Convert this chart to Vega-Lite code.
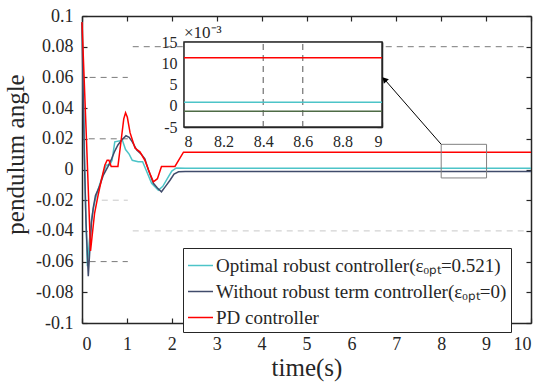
{
  "$schema": "https://vega.github.io/schema/vega-lite/v6.json",
  "width": 449,
  "height": 307,
  "autosize": {"type": "none"},
  "padding": {"left": 82, "top": 16, "right": 19, "bottom": 62},
  "background": "white",
  "config": {
    "font": "Liberation Serif",
    "view": {"stroke": null},
    "axis": {
      "domainColor": "#262626", "tickColor": "#262626", "labelColor": "#262626", "titleColor": "#262626",
      "labelFont": "Liberation Serif", "titleFont": "Liberation Serif", "titleFontWeight": "normal",
      "grid": false, "zindex": 1, "tickSize": -5, "domainWidth": 1.5, "tickWidth": 1.2, "labelFontSize": 18,
      "labelOverlap": false, "tickCount": 30
    },
    "legend": {"labelFont": "Liberation Serif"}
  },
  "datasets": {
    "curves": [
      {"s": "Optimal robust controller(εₒₚₜ=0.521)", "t": 0, "v": 0.096},
      {"s": "Optimal robust controller(εₒₚₜ=0.521)", "t": 0.02, "v": 0.07},
      {"s": "Optimal robust controller(εₒₚₜ=0.521)", "t": 0.05, "v": 0.02},
      {"s": "Optimal robust controller(εₒₚₜ=0.521)", "t": 0.08, "v": -0.025},
      {"s": "Optimal robust controller(εₒₚₜ=0.521)", "t": 0.12, "v": -0.063},
      {"s": "Optimal robust controller(εₒₚₜ=0.521)", "t": 0.16, "v": -0.048},
      {"s": "Optimal robust controller(εₒₚₜ=0.521)", "t": 0.21, "v": -0.033},
      {"s": "Optimal robust controller(εₒₚₜ=0.521)", "t": 0.25, "v": -0.026},
      {"s": "Optimal robust controller(εₒₚₜ=0.521)", "t": 0.3, "v": -0.019},
      {"s": "Optimal robust controller(εₒₚₜ=0.521)", "t": 0.39, "v": -0.01},
      {"s": "Optimal robust controller(εₒₚₜ=0.521)", "t": 0.47, "v": -0.003},
      {"s": "Optimal robust controller(εₒₚₜ=0.521)", "t": 0.54, "v": 0.003},
      {"s": "Optimal robust controller(εₒₚₜ=0.521)", "t": 0.62, "v": 0.003},
      {"s": "Optimal robust controller(εₒₚₜ=0.521)", "t": 0.67, "v": 0.006},
      {"s": "Optimal robust controller(εₒₚₜ=0.521)", "t": 0.73, "v": 0.018},
      {"s": "Optimal robust controller(εₒₚₜ=0.521)", "t": 0.9, "v": 0.019},
      {"s": "Optimal robust controller(εₒₚₜ=0.521)", "t": 0.97, "v": 0.013},
      {"s": "Optimal robust controller(εₒₚₜ=0.521)", "t": 1.05, "v": 0.01},
      {"s": "Optimal robust controller(εₒₚₜ=0.521)", "t": 1.12, "v": 0.006},
      {"s": "Optimal robust controller(εₒₚₜ=0.521)", "t": 1.25, "v": 0.005},
      {"s": "Optimal robust controller(εₒₚₜ=0.521)", "t": 1.35, "v": 0.005},
      {"s": "Optimal robust controller(εₒₚₜ=0.521)", "t": 1.45, "v": -0.002},
      {"s": "Optimal robust controller(εₒₚₜ=0.521)", "t": 1.55, "v": -0.009},
      {"s": "Optimal robust controller(εₒₚₜ=0.521)", "t": 1.7, "v": -0.0135},
      {"s": "Optimal robust controller(εₒₚₜ=0.521)", "t": 1.8, "v": -0.011},
      {"s": "Optimal robust controller(εₒₚₜ=0.521)", "t": 1.9, "v": -0.006},
      {"s": "Optimal robust controller(εₒₚₜ=0.521)", "t": 2.0, "v": -0.001},
      {"s": "Optimal robust controller(εₒₚₜ=0.521)", "t": 2.1, "v": 0.001},
      {"s": "Optimal robust controller(εₒₚₜ=0.521)", "t": 2.3, "v": 0.0008},
      {"s": "Optimal robust controller(εₒₚₜ=0.521)", "t": 8, "v": 0.0008},
      {"s": "Optimal robust controller(εₒₚₜ=0.521)", "t": 9, "v": 0.0008},
      {"s": "Optimal robust controller(εₒₚₜ=0.521)", "t": 10, "v": 0.0008},
      {"s": "Without robust term controller(εₒₚₜ=0)", "t": 0, "v": 0.096},
      {"s": "Without robust term controller(εₒₚₜ=0)", "t": 0.02, "v": 0.06},
      {"s": "Without robust term controller(εₒₚₜ=0)", "t": 0.05, "v": 0.01},
      {"s": "Without robust term controller(εₒₚₜ=0)", "t": 0.09, "v": -0.035},
      {"s": "Without robust term controller(εₒₚₜ=0)", "t": 0.14, "v": -0.0695},
      {"s": "Without robust term controller(εₒₚₜ=0)", "t": 0.18, "v": -0.05},
      {"s": "Without robust term controller(εₒₚₜ=0)", "t": 0.21, "v": -0.035},
      {"s": "Without robust term controller(εₒₚₜ=0)", "t": 0.25, "v": -0.025},
      {"s": "Without robust term controller(εₒₚₜ=0)", "t": 0.3, "v": -0.017},
      {"s": "Without robust term controller(εₒₚₜ=0)", "t": 0.39, "v": -0.011},
      {"s": "Without robust term controller(εₒₚₜ=0)", "t": 0.47, "v": -0.004},
      {"s": "Without robust term controller(εₒₚₜ=0)", "t": 0.58, "v": 0.002},
      {"s": "Without robust term controller(εₒₚₜ=0)", "t": 0.66, "v": 0.007},
      {"s": "Without robust term controller(εₒₚₜ=0)", "t": 0.73, "v": 0.012},
      {"s": "Without robust term controller(εₒₚₜ=0)", "t": 0.8, "v": 0.016},
      {"s": "Without robust term controller(εₒₚₜ=0)", "t": 0.88, "v": 0.019},
      {"s": "Without robust term controller(εₒₚₜ=0)", "t": 0.98, "v": 0.022},
      {"s": "Without robust term controller(εₒₚₜ=0)", "t": 1.05, "v": 0.021},
      {"s": "Without robust term controller(εₒₚₜ=0)", "t": 1.12, "v": 0.018},
      {"s": "Without robust term controller(εₒₚₜ=0)", "t": 1.22, "v": 0.0127},
      {"s": "Without robust term controller(εₒₚₜ=0)", "t": 1.32, "v": 0.01},
      {"s": "Without robust term controller(εₒₚₜ=0)", "t": 1.4, "v": 0.007},
      {"s": "Without robust term controller(εₒₚₜ=0)", "t": 1.48, "v": -0.0003},
      {"s": "Without robust term controller(εₒₚₜ=0)", "t": 1.59, "v": -0.009},
      {"s": "Without robust term controller(εₒₚₜ=0)", "t": 1.68, "v": -0.012},
      {"s": "Without robust term controller(εₒₚₜ=0)", "t": 1.77, "v": -0.0145},
      {"s": "Without robust term controller(εₒₚₜ=0)", "t": 1.86, "v": -0.011},
      {"s": "Without robust term controller(εₒₚₜ=0)", "t": 1.96, "v": -0.007},
      {"s": "Without robust term controller(εₒₚₜ=0)", "t": 2.05, "v": -0.003},
      {"s": "Without robust term controller(εₒₚₜ=0)", "t": 2.15, "v": -0.0015},
      {"s": "Without robust term controller(εₒₚₜ=0)", "t": 2.3, "v": -0.0013},
      {"s": "Without robust term controller(εₒₚₜ=0)", "t": 8, "v": -0.0013},
      {"s": "Without robust term controller(εₒₚₜ=0)", "t": 9, "v": -0.0013},
      {"s": "Without robust term controller(εₒₚₜ=0)", "t": 10, "v": -0.0013},
      {"s": "PD controller", "t": 0, "v": 0.096},
      {"s": "PD controller", "t": 0.1, "v": 0.019},
      {"s": "PD controller", "t": 0.19, "v": -0.053},
      {"s": "PD controller", "t": 0.28, "v": -0.0285},
      {"s": "PD controller", "t": 0.35, "v": -0.018},
      {"s": "PD controller", "t": 0.43, "v": -0.007},
      {"s": "PD controller", "t": 0.51, "v": 0.003},
      {"s": "PD controller", "t": 0.56, "v": 0.006},
      {"s": "PD controller", "t": 0.6, "v": 0.006},
      {"s": "PD controller", "t": 0.65, "v": 0.002},
      {"s": "PD controller", "t": 0.8, "v": 0.002},
      {"s": "PD controller", "t": 0.88, "v": 0.021},
      {"s": "PD controller", "t": 0.93, "v": 0.033},
      {"s": "PD controller", "t": 0.97, "v": 0.037},
      {"s": "PD controller", "t": 1.01, "v": 0.034},
      {"s": "PD controller", "t": 1.07, "v": 0.024},
      {"s": "PD controller", "t": 1.18, "v": 0.014},
      {"s": "PD controller", "t": 1.29, "v": 0.0115},
      {"s": "PD controller", "t": 1.4, "v": 0.006},
      {"s": "PD controller", "t": 1.51, "v": -0.0025},
      {"s": "PD controller", "t": 1.59, "v": -0.008},
      {"s": "PD controller", "t": 1.68, "v": -0.006},
      {"s": "PD controller", "t": 1.77, "v": 0.002},
      {"s": "PD controller", "t": 2.07, "v": 0.002},
      {"s": "PD controller", "t": 2.26, "v": 0.0113},
      {"s": "PD controller", "t": 8, "v": 0.0113},
      {"s": "PD controller", "t": 9, "v": 0.0113},
      {"s": "PD controller", "t": 10, "v": 0.0113}
    ],
    "gridDark": [
      {"y": 0.08, "x1": 1.13, "x2": 9.91},
      {"y": 0.06, "x1": 0.17, "x2": 1.02},
      {"y": 0.02, "x1": 0.15, "x2": 1.02},
      {"y": -0.06, "x1": 0.17, "x2": 1.02}
    ],
    "gridLight": [
      {"y": -0.02, "x1": 0.44, "x2": 1.02},
      {"y": -0.04, "x1": 1.13, "x2": 9.91}
    ],
    "zoomBox": [{"x1": 8.0, "x2": 9.01, "y1": -0.0055, "y2": 0.0164}],
    "arrow": [{"x1": 8.0, "y1": 0.0164, "x2": 6.75, "y2": 0.0583}],
    "insetGrid": [{"g": 8.4}, {"g": 8.6}]
  },
  "layer": [
    {
      "layer": [
        {
          "data": {"name": "gridDark"},
          "mark": {"type": "rule", "color": "#7a7a7a", "strokeDash": [6, 5], "strokeWidth": 1},
          "encoding": {
            "x": {"field": "x1", "type": "quantitative", "scale": {"domain": [0, 10], "nice": false},
              "axis": {"orient": "bottom", "values": [0,1,2,3,4,5,6,7,8,9,10], "format": "d", "labelPadding": 17,
                "labelOverlap": false, "tickCount": 30,
                "title": "time(s)", "titleFontSize": 25, "titleY": 52, "titleBaseline": "alphabetic"}},
            "x2": {"field": "x2"},
            "y": {"field": "y", "type": "quantitative", "scale": {"domain": [-0.1, 0.1], "nice": false, "zero": false},
              "axis": {"orient": "left", "values": [-0.1,-0.08,-0.06,-0.04,-0.02,0,0.02,0.04,0.06,0.08,0.1], "tickCount": 30,
                "labelExpr": "replace(format(datum.value, '~g'), '−', '-')", "labelPadding": 14, "labelOverlap": false,
                "title": "pendulum angle", "titleFontSize": 25, "titleAngle": -90, "titleX": -59, "titleY": 138,
                "titleBaseline": "alphabetic", "titleAlign": "center"}}
          }
        },
        {
          "data": {"name": "gridLight"},
          "mark": {"type": "rule", "color": "#c8c8c8", "strokeDash": [6, 5], "strokeWidth": 1},
          "encoding": {
            "x": {"field": "x1", "type": "quantitative"},
            "x2": {"field": "x2"},
            "y": {"field": "y", "type": "quantitative"}
          }
        },
        {
          "data": {"name": "curves"},
          "mark": {"type": "line", "strokeWidth": 1.5},
          "encoding": {
            "x": {"field": "t", "type": "quantitative"},
            "y": {"field": "v", "type": "quantitative"},
            "color": {"field": "s", "type": "nominal",
              "scale": {"domain": ["Optimal robust controller(εₒₚₜ=0.521)", "Without robust term controller(εₒₚₜ=0)", "PD controller"],
                "range": ["#4dc4c8", "#404b6b", "#ff0000"]},
              "legend": {
                "orient": "none", "legendX": 101, "legendY": 232, "title": null,
                "symbolType": "stroke", "symbolSize": 625, "symbolStrokeWidth": 1.5,
                "labelFont": "Liberation Serif", "labelFontSize": 19, "labelColor": "#262626", "labelLimit": 500,
                "fillColor": "white", "strokeColor": "#262626", "padding": 4, "rowPadding": 2, "labelOffset": 2,
                "cornerRadius": 0, "zindex": 1
              }}
          }
        },
        {
          "data": {"name": "zoomBox"},
          "mark": {"type": "rect", "fill": null, "stroke": "#808080", "strokeWidth": 1},
          "encoding": {
            "x": {"field": "x1", "type": "quantitative"}, "x2": {"field": "x2"},
            "y": {"field": "y1", "type": "quantitative"}, "y2": {"field": "y2"}
          }
        }
      ]
    },
    {
      "layer": [
        {
          "data": {"values": [{}]},
          "mark": {"type": "rect", "fill": "white", "stroke": "#262626", "strokeWidth": 1.5},
          "encoding": {
            "x": {"datum": 8, "type": "quantitative", "scale": {"domain": [8, 9], "range": [102, 300], "nice": false, "zero": false},
              "axis": {"orient": "bottom", "offset": -196, "values": [8, 8.2, 8.4, 8.6, 8.8, 9], "format": "~g", "tickCount": 30,
                "labelFontSize": 16, "labelPadding": 11.5, "labelOverlap": false, "title": null}},
            "x2": {"datum": 9},
            "y": {"datum": -0.005, "type": "quantitative", "scale": {"domain": [-0.005, 0.015], "range": [111, 26], "nice": false, "zero": false},
              "axis": {"orient": "left", "offset": -102, "values": [-0.005, 0, 0.005, 0.01, 0.015], "tickCount": 30,
                "labelExpr": "replace(format(datum.value * 1000, '~g'), '−', '-')", "labelFontSize": 16, "labelPadding": 12,
                "labelOverlap": false, "title": null}},
            "y2": {"datum": 0.015}
          }
        },
        {
          "data": {"name": "insetGrid"},
          "mark": {"type": "rule", "color": "#555555", "strokeDash": [6, 5], "strokeWidth": 1},
          "encoding": {
            "x": {"field": "g", "type": "quantitative"},
            "y": {"datum": -0.005, "type": "quantitative"},
            "y2": {"datum": 0.015}
          }
        },
        {
          "data": {"name": "curves"},
          "transform": [{"filter": "datum.t >= 8 && datum.t <= 9 && datum.s == 'Optimal robust controller(εₒₚₜ=0.521)'"}],
          "mark": {"type": "line", "strokeWidth": 1.5, "color": "#4dc4c8"},
          "encoding": {
            "x": {"field": "t", "type": "quantitative"},
            "y": {"field": "v", "type": "quantitative"}
          }
        },
        {
          "data": {"name": "curves"},
          "transform": [{"filter": "datum.t >= 8 && datum.t <= 9 && datum.s == 'Without robust term controller(εₒₚₜ=0)'"}],
          "mark": {"type": "line", "strokeWidth": 1.5, "color": "#4e6b45"},
          "encoding": {
            "x": {"field": "t", "type": "quantitative"},
            "y": {"field": "v", "type": "quantitative"}
          }
        },
        {
          "data": {"name": "curves"},
          "transform": [{"filter": "datum.t >= 8 && datum.t <= 9 && datum.s == 'PD controller'"}],
          "mark": {"type": "line", "strokeWidth": 1.5, "color": "#ff0000"},
          "encoding": {
            "x": {"field": "t", "type": "quantitative"},
            "y": {"field": "v", "type": "quantitative"}
          }
        },
        {
          "data": {"values": [{}]},
          "mark": {"type": "text", "text": "×10⁻³", "align": "left", "baseline": "alphabetic", "dx": 0, "dy": -4, "fontSize": 17, "color": "#262626"},
          "encoding": {
            "x": {"datum": 8, "type": "quantitative"},
            "y": {"datum": 0.015, "type": "quantitative"}
          }
        }
      ]
    },
    {
      "data": {"values": [{}]},
      "mark": {"type": "point", "opacity": 0},
      "encoding": {
        "x": {"datum": 8, "type": "quantitative", "scale": {"domain": [8, 9], "range": [102, 300], "nice": false, "zero": false},
          "axis": {"orient": "top", "offset": -26, "values": [8, 8.2, 8.4, 8.6, 8.8, 9], "tickCount": 30, "labels": false, "title": null}},
        "y": {"datum": 0, "type": "quantitative", "scale": {"domain": [-0.005, 0.015], "range": [111, 26], "nice": false, "zero": false},
          "axis": {"orient": "right", "offset": -149, "values": [-0.005, 0, 0.005, 0.01, 0.015], "tickCount": 30, "labels": false, "title": null}}
      }
    },
    {
      "layer": [
        {
          "data": {"name": "arrow"},
          "mark": {"type": "rule", "color": "#000000", "strokeWidth": 1},
          "encoding": {
            "x": {"field": "x1", "type": "quantitative", "scale": {"domain": [0, 10], "nice": false},
              "axis": {"orient": "top", "values": [0,1,2,3,4,5,6,7,8,9,10], "tickCount": 30, "labels": false, "title": null}},
            "x2": {"field": "x2"},
            "y": {"field": "y1", "type": "quantitative", "scale": {"domain": [-0.1, 0.1], "nice": false, "zero": false},
              "axis": {"orient": "right", "values": [-0.1,-0.08,-0.06,-0.04,-0.02,0,0.02,0.04,0.06,0.08,0.1], "tickCount": 30, "labels": false, "title": null}},
            "y2": {"field": "y2"}
          }
        },
        {
          "data": {"name": "arrow"},
          "mark": {"type": "point", "shape": "triangle", "filled": true, "angle": 318, "size": 45, "color": "#000000", "opacity": 1},
          "encoding": {
            "x": {"field": "x2", "type": "quantitative"},
            "y": {"field": "y2", "type": "quantitative"}
          }
        }
      ]
    }
  ],
  "resolve": {"scale": {"x": "independent", "y": "independent"}}
}
